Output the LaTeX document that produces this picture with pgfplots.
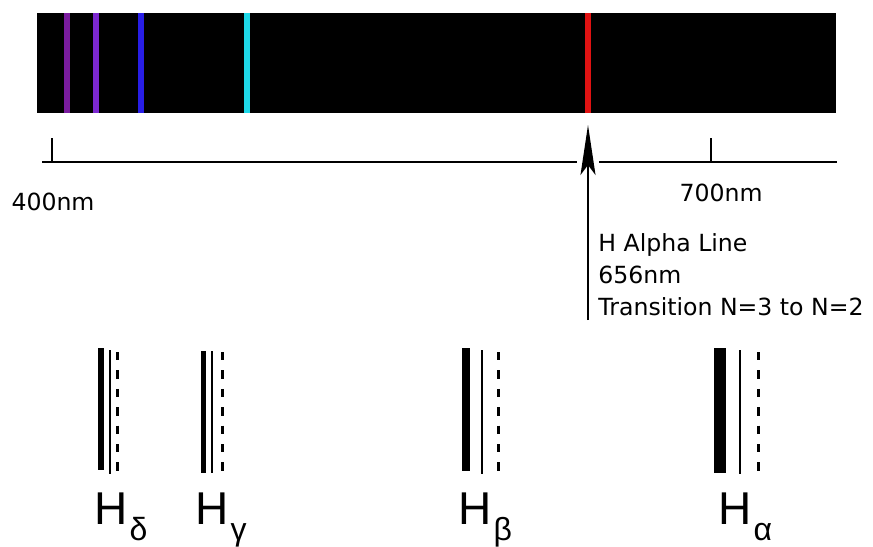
\documentclass[border=0pt]{standalone}
\usepackage{pgfplots}
\pgfplotsset{compat=1.18}
\usepackage{fontspec}
\setmainfont{DejaVu Sans}
\newfontfamily\arialf{Liberation Sans}
\usetikzlibrary{arrows.meta}
\definecolor{vA}{RGB}{122,28,158}
\definecolor{vB}{RGB}{124,40,208}
\definecolor{vC}{RGB}{40,30,230}
\definecolor{vD}{RGB}{30,216,232}
\definecolor{vE}{RGB}{224,18,18}
\begin{document}
\begin{tikzpicture}
\begin{axis}[hide axis, scale only axis, width=436.5pt, height=271.5pt,
  xmin=0, xmax=873, ymin=0, ymax=543, y dir=reverse, clip=false]
% background
\addplot[fill=white, draw=none] coordinates {(0,0) (873,0) (873,543) (0,543)} -- cycle;
% spectrum
\addplot[fill=black, draw=none] coordinates {(37,13) (836,13) (836,113) (37,113)} -- cycle;
\addplot[vA, line width=3pt] coordinates {(67,13) (67,113)};
\addplot[vB, line width=3pt] coordinates {(96,13) (96,113)};
\addplot[vC, line width=3pt] coordinates {(141,13) (141,113)};
\addplot[vD, line width=3pt] coordinates {(247,13) (247,113)};
\addplot[vE, line width=3pt] coordinates {(588,13) (588,113)};
% scale
\addplot[black, line width=1.4pt] coordinates {(42,162) (577,162)};
\addplot[black, line width=1.4pt] coordinates {(599,162) (837,162)};
\addplot[black, line width=1.3pt] coordinates {(52,138) (52,162)};
\addplot[black, line width=1.3pt] coordinates {(711,138) (711,162)};
\addplot[black, line width=1.1pt, -{Stealth[length=25pt, width=7.5pt, inset=5pt]}] coordinates {(588,320) (588,125)};
\node[anchor=base, inner sep=0pt, font=\fontsize{11.8}{13}\selectfont] at (axis cs:53,210) {400nm};
\node[anchor=base, inner sep=0pt, font=\fontsize{11.8}{13}\selectfont] at (axis cs:721,201) {700nm};
\node[anchor=base west, inner sep=0pt, font=\fontsize{11.8}{13}\selectfont] at (axis cs:598,251.5) {H Alpha Line};
\node[anchor=base west, inner sep=0pt, font=\fontsize{11.8}{13}\selectfont] at (axis cs:598,283) {656nm};
\node[anchor=base west, inner sep=0pt, font=\fontsize{11.8}{13}\selectfont] at (axis cs:598,315) {Transition N=3 to N=2};
% Balmer line diagrams
\addplot[black, line width=3pt] coordinates {(101,348) (101,470)};
\addplot[black, line width=1pt] coordinates {(109.5,350) (109.5,474)};
\addplot[black, line width=1.4pt, dash pattern=on 4.2pt off 5pt] coordinates {(117.5,352) (117.5,474)};
\addplot[black, line width=2.8pt] coordinates {(203.5,351) (203.5,473)};
\addplot[black, line width=1pt] coordinates {(211.5,351) (211.5,473)};
\addplot[black, line width=1.4pt, dash pattern=on 4.2pt off 5pt] coordinates {(222.5,352) (222.5,474)};
\addplot[black, line width=4pt] coordinates {(466,348) (466,471)};
\addplot[black, line width=1pt] coordinates {(481.5,350) (481.5,474)};
\addplot[black, line width=1.4pt, dash pattern=on 4.2pt off 5pt] coordinates {(498.5,352) (498.5,474)};
\addplot[black, line width=6pt] coordinates {(720,348) (720,473)};
\addplot[black, line width=1pt] coordinates {(739.5,350) (739.5,474)};
\addplot[black, line width=1.4pt, dash pattern=on 4.2pt off 5pt] coordinates {(758.5,352) (758.5,474)};
\node[anchor=base west, inner sep=0pt, font=\arialf\fontsize{23}{24}\selectfont] at (axis cs:94,524) {H\hspace{1pt}\raisebox{-8pt}{\fontsize{16}{16}\selectfont δ}};
\node[anchor=base west, inner sep=0pt, font=\arialf\fontsize{23}{24}\selectfont] at (axis cs:195,524) {H\hspace{1pt}\raisebox{-8pt}{\fontsize{16}{16}\selectfont γ}};
\node[anchor=base west, inner sep=0pt, font=\arialf\fontsize{23}{24}\selectfont] at (axis cs:458,524) {H\hspace{1pt}\raisebox{-8pt}{\fontsize{16}{16}\selectfont β}};
\node[anchor=base west, inner sep=0pt, font=\arialf\fontsize{23}{24}\selectfont] at (axis cs:718,524) {H\hspace{1pt}\raisebox{-8pt}{\fontsize{16}{16}\selectfont α}};
\end{axis}
\end{tikzpicture}
\end{document}
